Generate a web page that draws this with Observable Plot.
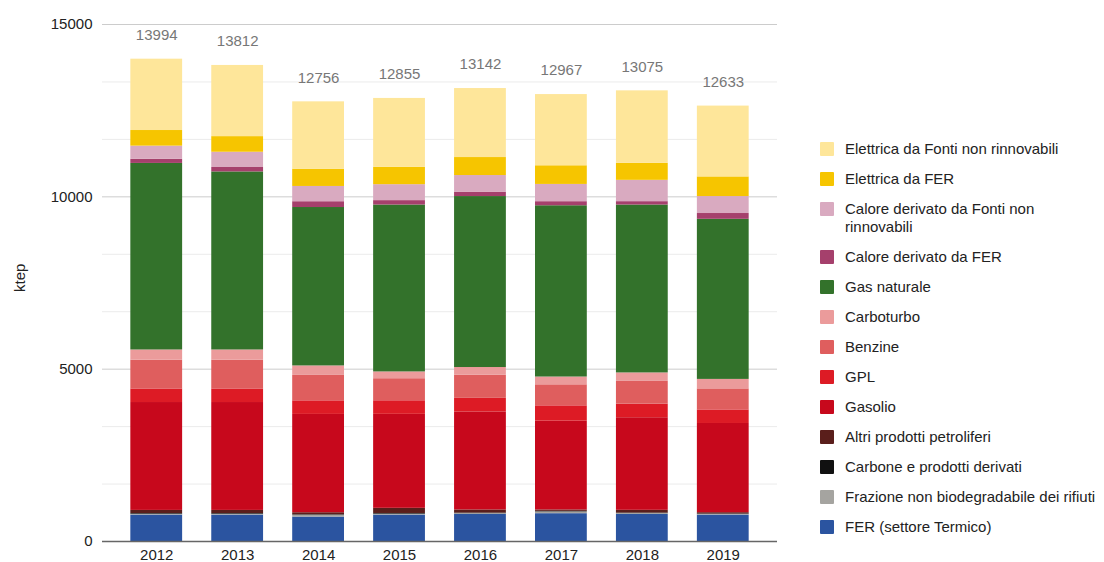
<!DOCTYPE html>
<html>
<head>
<meta charset="utf-8">
<script src="https://cdn.jsdelivr.net/npm/d3@7"></script>
<script src="https://cdn.jsdelivr.net/npm/@observablehq/plot@0.6"></script>
<style>
  html, body { margin: 0; padding: 0; background: #fff; overflow: hidden; }
  #wrap { position: relative; width: 1104px; height: 562px; font-family: "Liberation Sans", Arial, sans-serif; }
  #legend { position: absolute; left: 820px; top: 140px; font-size: 15px; color: #222; }
  .item { display: flex; align-items: flex-start; margin-bottom: 12.3px; line-height: 17.7px; }
  .sw { width: 14px; height: 14px; margin-top: 1.85px; margin-right: 11px; border-radius: 1px; flex: none; }
</style>
</head>
<body>
<div id="wrap"><div id="chart"></div><div id="legend"></div></div>
<script>
const years = ["2012", "2013", "2014", "2015", "2016", "2017", "2018", "2019"];
const totals = [13994, 13812, 12756, 12855, 13142, 12967, 13075, 12633];

// bottom -> top stacking order
const categories = [
  "FER (settore Termico)",
  "Frazione non biodegradabile dei rifiuti",
  "Carbone e prodotti derivati",
  "Altri prodotti petroliferi",
  "Gasolio",
  "GPL",
  "Benzine",
  "Carboturbo",
  "Gas naturale",
  "Calore derivato da FER",
  "Calore derivato da Fonti non rinnovabili",
  "Elettrica da FER",
  "Elettrica da Fonti non rinnovabili"
];
const colors = [
  "#2b54a0", "#a5a4a0", "#111111", "#5a1e1b", "#c7081c", "#dd1b25", "#df5e5e",
  "#eb9b9b", "#33722b", "#a5406c", "#d9aac0", "#f6c500", "#fee69a"
];

const ferTermico       = [767, 767, 709, 767, 787, 807, 787, 767];
const frazioneRifiuti  = [25, 25, 55, 26, 22, 52, 23, 19];
const carbone          = [20, 20, 15, 20, 15, 15, 15, 15];
const altriPetroliferi = [90, 90, 55, 150, 90, 40, 80, 35];
const gasolio          = [3130, 3130, 2853, 2726, 2845, 2579, 2686, 2588];
const gpl              = [394, 394, 394, 394, 394, 443, 394, 394];
const benzine          = [836, 836, 738, 640, 669, 610, 660, 610];
const carboturbo       = [295, 295, 275, 197, 226, 226, 246, 275];
const gasNaturale      = [5412, 5166, 4596, 4842, 4960, 4969, 4871, 4645];
const caloreFER        = [118, 128, 168, 128, 128, 118, 98, 168];
const caloreNonRinn    = [384, 443, 443, 463, 482, 501, 619, 492];
const elettricaFER     = [453, 453, 501, 501, 522, 541, 492, 570];
const elettricaNonRinn = [2070, 2065, 1954, 2001, 2002, 2066, 2104, 2055];

const majorTicks = [0, 5000, 10000, 15000];
const minorTicks = [1666.67, 3333.33, 6666.67, 8333.33, 11666.67, 13333.33];

const series = [ferTermico, frazioneRifiuti, carbone, altriPetroliferi, gasolio, gpl, benzine,
  carboturbo, gasNaturale, caloreFER, caloreNonRinn, elettricaFER, elettricaNonRinn];

const rows = [];
categories.forEach((c, i) => years.forEach((y, j) => rows.push({year: y, cat: c, value: series[i][j]})));
const totalRows = years.map((y, j) => ({year: y, total: totals[j]}));

const chart = Plot.plot({
  width: 1104,
  height: 562,
  marginLeft: 102,
  marginRight: 327,
  marginTop: 24,
  marginBottom: 21,
  style: {fontFamily: "'Liberation Sans', Arial, sans-serif", fontSize: "15px", color: "#222", background: "#fff"},
  x: {domain: years, paddingInner: 0.36, paddingOuter: 0.35, round: false, label: null, tickSize: 0, tickPadding: 8},
  y: {domain: [0, 15000], ticks: majorTicks, tickFormat: d => String(d), label: null, tickSize: 0, tickPadding: 10},
  color: {domain: categories, range: colors},
  marks: [
    Plot.ruleY(minorTicks, {stroke: "#ebebeb", strokeWidth: 1}),
    Plot.ruleY(majorTicks.slice(1), {stroke: "#cccccc", strokeWidth: 1}),
    Plot.barY(rows, {x: "year", y: "value", fill: "cat", order: categories}),
    Plot.ruleY([0], {stroke: "#666", strokeWidth: 1.5}),
    Plot.text(totalRows, {x: "year", y: "total", text: d => String(d.total), dy: -24, fill: "#777", fontSize: 15}),
    Plot.text(["ktep"], {frameAnchor: "left", dx: -82, dy: 9, rotate: -90, fill: "#222", fontSize: 15, text: d => d})
  ]
});
document.getElementById("chart").appendChild(chart);

const legend = document.getElementById("legend");
categories.slice().reverse().forEach(c => {
  const i = categories.indexOf(c);
  const item = document.createElement("div");
  item.className = "item";
  const sw = document.createElement("div");
  sw.className = "sw";
  sw.style.background = colors[i];
  const t = document.createElement("div");
  t.innerHTML = c === "Calore derivato da Fonti non rinnovabili" ? "Calore derivato da Fonti non<br>rinnovabili" : c;
  t.style.whiteSpace = "nowrap";
  item.appendChild(sw);
  item.appendChild(t);
  legend.appendChild(item);
});
</script>
</body>
</html>
